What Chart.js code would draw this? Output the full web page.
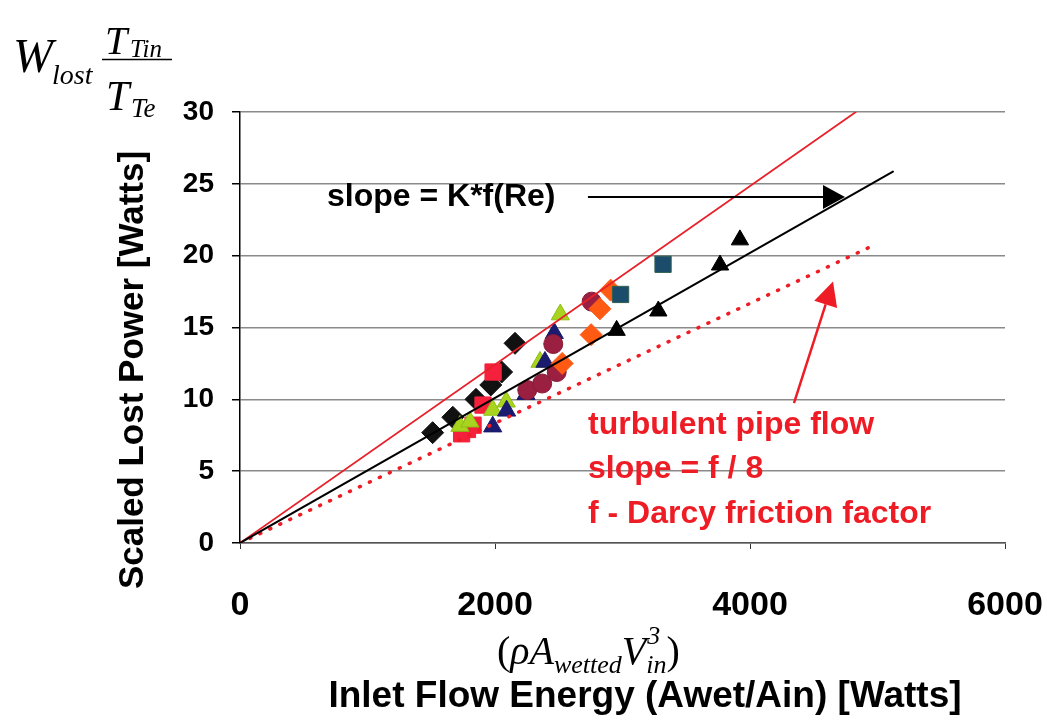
<!DOCTYPE html>
<html><head><meta charset="utf-8">
<script src="https://cdn.jsdelivr.net/npm/chart.js@4"></script>
<style>html,body{margin:0;padding:0;background:#fff;overflow:hidden}#wrap{width:1047px;height:725px;position:relative}</style>
</head><body><div id="wrap"><canvas id="c" width="1047" height="725"></canvas></div>
<script>
// ---- data ----
const xTicks = [0, 2000, 4000, 6000];
const yTicks = [0, 5, 10, 15, 20, 25, 30];
const blackDiamonds = [[1511,7.68],[1669,8.75],[1851,10.0],[1967,11.0],[2052,11.9],[2157,13.9]];
const redSquares = [[1738,7.6],[1784,7.9],[1828,8.2],[1906,9.6],[1985,11.9]];
const greenTriangles = [[1725,8.14],[1803,8.44],[1982,9.26],[2088,9.83],[2353,12.6],[2512,15.9]];
const navyTriangles = [[1982,8.1],[2091,9.2],[2243,10.35],[2392,12.6],[2465,14.6]];
const maroonCircles = [[2253,10.65],[2370,11.1],[2484,11.9],[2457,13.85],[2758,16.8]];
const orangeDiamonds = [[2527,12.5],[2754,14.5],[2823,16.3],[2907,17.6]];
const tealSquares = [[2985,17.3],[3318,19.4]];
const blackTriangles = [[2954,14.8],[3281,16.15],[3765,19.35],[3921,21.1]];
const fitLine = [[0,0],[5121,25.85]];
const upperLine = [[0,0],[4830,30]];
const pipeFlowLine = [[0,0],[4941,20.6]];
const slopeArrow = [[2729,24.08],[4745,24.08]];
const pipeArrow = [[4345,9.74],[4651,18.2]];
const slopeLabel = 'slope = K*f(Re)';
const pipeLabels = ['turbulent pipe flow', 'slope = f / 8', 'f - Darcy friction factor'];
const xTitle = 'Inlet Flow Energy (Awet/Ain) [Watts]';
const yTitle = 'Scaled Lost Power [Watts]';

const pts = a => a.map(p => ({x: p[0], y: p[1]}));
const SANS = "'Liberation Sans', Arial, sans-serif";
const SERIF = "'Liberation Serif', 'Times New Roman', serif";

function marker(data, style, radius, fill, border) {
  return {type: 'scatter', data: pts(data), pointStyle: style, pointRadius: radius, pointHoverRadius: radius,
    backgroundColor: fill, borderColor: border || fill, pointBorderWidth: 1, showLine: false};
}
function line(data, color, width, dash) {
  return {type: 'scatter', data: pts(data), showLine: true, pointRadius: 0, borderColor: color,
    borderWidth: width, borderDash: dash || [], borderCapStyle: 'round', fill: false};
}

function arrow(ctx, x0, y0, x1, y1, color, lw, hl, hw) {
  const a = Math.atan2(y1 - y0, x1 - x0);
  const bx = x1 - hl * Math.cos(a), by = y1 - hl * Math.sin(a);
  ctx.save();
  ctx.strokeStyle = color; ctx.fillStyle = color; ctx.lineWidth = lw;
  ctx.beginPath(); ctx.moveTo(x0, y0); ctx.lineTo(bx, by); ctx.stroke();
  ctx.beginPath(); ctx.moveTo(x1, y1);
  ctx.lineTo(bx + hw / 2 * Math.sin(a), by - hw / 2 * Math.cos(a));
  ctx.lineTo(bx - hw / 2 * Math.sin(a), by + hw / 2 * Math.cos(a));
  ctx.closePath(); ctx.fill();
  ctx.restore();
}

const decor = {
  id: 'decor',
  afterDatasetsDraw(chart) {
    const ctx = chart.ctx, xs = chart.scales.x, ys = chart.scales.y;
    const P = p => [xs.getPixelForValue(p[0]), ys.getPixelForValue(p[1])];
    let [a0, a1] = [P(slopeArrow[0]), P(slopeArrow[1])];
    arrow(ctx, a0[0], a0[1], a1[0], a1[1], '#000', 2, 22, 24);
    [a0, a1] = [P(pipeArrow[0]), P(pipeArrow[1])];
    arrow(ctx, a0[0], a0[1], a1[0], a1[1], '#ee1c25', 2.5, 24, 24);
  },
  afterDraw(chart) {
    const ctx = chart.ctx;
    ctx.save();
    ctx.textBaseline = 'middle';
    ctx.fillStyle = '#000';
    ctx.font = 'bold 32px ' + SANS;
    ctx.textAlign = 'left';
    ctx.fillText(slopeLabel, 327, 197);
    ctx.fillStyle = '#ee1c25';
    ctx.font = 'bold 32px ' + SANS;
    ctx.fillText(pipeLabels[0], 588, 425);
    ctx.fillText(pipeLabels[1], 588, 469);
    ctx.fillText(pipeLabels[2], 588, 514);
    // axis titles
    ctx.fillStyle = '#000';
    ctx.textAlign = 'center';
    ctx.font = 'bold 37px ' + SANS;
    ctx.fillText(xTitle, 645, 697);
    ctx.save();
    ctx.translate(133, 370); ctx.rotate(-Math.PI / 2);
    ctx.font = 'bold 35px ' + SANS;
    ctx.fillText(yTitle, 0, 0);
    ctx.restore();
    // formula top-left
    ctx.textAlign = 'left'; ctx.textBaseline = 'alphabetic';
    ctx.font = 'italic 48px ' + SERIF; ctx.fillText('W', 13, 72);
    ctx.font = 'italic 28px ' + SERIF; ctx.fillText('lost', 52, 84);
    ctx.font = 'italic 40px ' + SERIF; ctx.fillText('T', 105, 54);
    ctx.font = 'italic 25px ' + SERIF; ctx.fillText('Tin', 130, 57);
    ctx.lineWidth = 1.6; ctx.strokeStyle = '#000';
    ctx.beginPath(); ctx.moveTo(102, 59.5); ctx.lineTo(172, 59.5); ctx.stroke();
    ctx.font = 'italic 42px ' + SERIF; ctx.fillText('T', 106, 110);
    ctx.font = 'italic 27px ' + SERIF; ctx.fillText('Te', 131, 117);
    // formula bottom
    let x = 497;
    const put = (t, f, y) => { ctx.font = f; ctx.fillText(t, x, y); x += ctx.measureText(t).width; };
    put('(', '40px ' + SERIF, 664);
    put('\u03C1A', 'italic 40px ' + SERIF, 664);
    put('wetted', 'italic 26px ' + SERIF, 673);
    put('V', 'italic 40px ' + SERIF, 664);
    const xs3 = x;
    ctx.font = 'italic 26px ' + SERIF; ctx.fillText('3', xs3 + 1, 644);
    put('in', 'italic 26px ' + SERIF, 673);
    put(')', '40px ' + SERIF, 664);
    ctx.restore();
  }
};

new Chart(document.getElementById('c'), {
  type: 'scatter',
  data: {
    datasets: [
      line(fitLine, '#000', 2),
      line(upperLine, '#e8202a', 1.8),
      line(pipeFlowLine, '#ee1c25', 3.5, [1, 10]),
      marker(blackTriangles, 'triangle', 10, '#000'),
      marker(tealSquares, 'rect', 11.5, '#1b4c6c', '#2f5f4f'),
      marker(orangeDiamonds, 'rectRot', 11, '#ff5a14'),
      marker(maroonCircles, 'circle', 9.5, '#9a1f40', '#8a1a38'),
      marker(navyTriangles, 'triangle', 10.5, '#1a1a6e'),
      marker(greenTriangles, 'triangle', 10.5, '#a8d420', '#8cbf10'),
      marker(redSquares, 'rect', 11.5, '#f5203c'),
      marker(blackDiamonds, 'rectRot', 11, '#111')
    ]
  },
  options: {
    responsive: false, animation: false, devicePixelRatio: 1,
    layout: {padding: {top: 112, right: 42, left: 0, bottom: 0}},
    plugins: {legend: {display: false}, tooltip: {enabled: false}},
    scales: {
      x: {
        type: 'linear', min: 0, max: 6000,
        afterBuildTicks: s => { s.ticks = xTicks.map(v => ({value: v})); },
        afterFit: s => { s.height = 182; s.paddingLeft = 0; s.paddingRight = 0; },
        grid: {drawOnChartArea: false, drawTicks: true, tickLength: 6, tickColor: '#333'},
        border: {color: '#555', width: 1.5},
        ticks: {color: '#000', padding: 36, maxRotation: 0, callback: v => String(v),
          font: {family: SANS, weight: 'bold', size: 34}}
      },
      y: {
        type: 'linear', min: 0, max: 30,
        afterBuildTicks: s => { s.ticks = yTicks.map(v => ({value: v})); },
        afterFit: s => { s.width = 240; s.paddingTop = 0; s.paddingBottom = 0; },
        grid: {color: '#8a8a8a', lineWidth: 1.5, drawTicks: true, tickLength: 8, tickColor: '#000'},
        border: {color: '#000', width: 1.5},
        ticks: {color: '#000', padding: 18, callback: v => String(v),
          font: {family: SANS, weight: 'bold', size: 28}}
      }
    }
  },
  plugins: [decor]
});
</script></body></html>
